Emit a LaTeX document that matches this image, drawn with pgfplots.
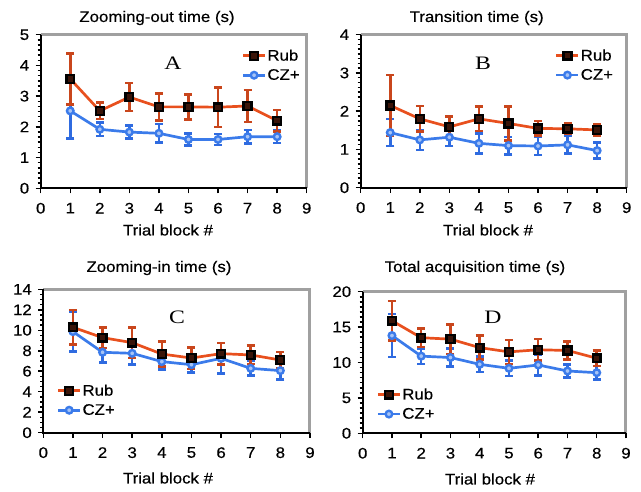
\documentclass[border=0pt]{standalone}
\usepackage{pgfplots}
\pgfplotsset{compat=1.18}
\usepackage{fontspec}
\setmainfont{Liberation Sans}[FakeStretch=1.1, FakeBold=0.4]
\newfontfamily\serifx{Liberation Serif}[FakeStretch=1.25]
\definecolor{rubline}{HTML}{E8501E}
\definecolor{ruberr}{HTML}{C9461C}
\definecolor{czline}{HTML}{3B7BEA}
\definecolor{czerr}{HTML}{2F6BE0}
\definecolor{framec}{HTML}{A0A0A0}
\newcommand{\tfont}{\fontsize{15.3}{17}\selectfont}

\pgfplotstableread{
x y e
1 3.56 0.83
2 2.52 0.27
3 2.97 0.46
4 2.65 0.44
5 2.65 0.41
6 2.64 0.64
7 2.68 0.52
8 2.20 0.35
}\rubA
\pgfplotstableread{
x y e
1 2.52 0.90
2 1.92 0.22
3 1.83 0.21
4 1.79 0.30
5 1.59 0.19
6 1.59 0.18
7 1.68 0.22
8 1.68 0.20
}\czA
\pgfplotstableread{
x y e
1 2.15 0.80
2 1.80 0.33
3 1.59 0.27
4 1.80 0.32
5 1.68 0.44
6 1.55 0.19
7 1.54 0.14
8 1.51 0.16
}\rubB
\pgfplotstableread{
x y e
1 1.44 0.35
2 1.25 0.26
3 1.32 0.23
4 1.16 0.26
5 1.10 0.23
6 1.09 0.24
7 1.12 0.23
8 0.97 0.21
}\czB
\pgfplotstableread{
x y e
1 10.29 1.70
2 9.28 1.00
3 8.79 1.50
4 7.68 1.20
5 7.29 1.05
6 7.72 1.05
7 7.59 0.90
8 7.10 0.78
}\rubC
\pgfplotstableread{
x y e
1 9.87 1.95
2 7.85 1.00
3 7.75 1.07
4 6.94 0.75
5 6.64 0.78
6 7.26 1.50
7 6.28 0.70
8 6.06 0.85
}\czC
\pgfplotstableread{
x y e
1 15.9 2.80
2 13.5 1.30
3 13.3 2.10
4 12.1 1.70
5 11.5 1.70
6 11.8 1.55
7 11.7 1.30
8 10.6 1.10
}\rubD
\pgfplotstableread{
x y e
1 13.8 3.05
2 10.9 1.10
3 10.7 1.30
4 9.74 1.10
5 9.18 1.10
6 9.65 1.50
7 8.80 0.95
8 8.56 0.95
}\czD

\pgfplotsset{
 panel/.style={
  scale only axis,
  xmin=0, xmax=9, ymin=0,
  xtick={0,...,9},
  axis line style={draw=none},
  tick align=outside,
  tick pos=left,
  major tick length=5pt, minor tick length=3pt,
  every tick/.style={black, line width=1.5pt},
  /pgf/number format/assume math mode=true,
  ticklabel style={font=\tfont},
  xticklabel style={yshift=-6pt},
  yticklabel style={xshift=-3pt},
  clip=false,
  legend cell align=left,
  legend image code/.code={\draw[##1, mark repeat=2, mark phase=2] plot coordinates {(0pt,0pt) (11pt,0pt) (22pt,0pt)};},
  legend style={draw=none, fill=none, font=\tfont, inner sep=0pt, row sep=5pt, nodes={inner sep=1pt}},
  after end axis/.code={
    \draw[framec, line width=3pt] (rel axis cs:0,1) -- (rel axis cs:1,1) -- (rel axis cs:1,0);
    \draw[black, line width=2pt] (rel axis cs:0,1) -- (rel axis cs:0,0) -- (rel axis cs:1,0);
  },
 },
 rubleg/.style={color=rubline, line width=2.7pt, mark=square*, mark size=3.9pt, mark options={draw=black, fill=black!75!rubline, line width=2.4pt, solid}},
 czleg/.style={color=czline, line width=2.7pt, mark=*, mark size=3.3pt, mark options={draw=czline, fill=czline!45!white, line width=2.4pt, solid}},
 rub/.style={rubleg, forget plot,
   error bars/y dir=both, error bars/y explicit,
   error bars/error bar style={ruberr, line width=2.5pt},
   error bars/error mark options={ruberr, rotate=90, mark size=4pt, line width=2.5pt}},
 cz/.style={czleg, forget plot,
   error bars/y dir=both, error bars/y explicit,
   error bars/error bar style={czerr, line width=2.5pt},
   error bars/error mark options={czerr, rotate=90, mark size=4pt, line width=2.5pt}},
}

\begin{document}
\begin{tikzpicture}[x=1pt,y=1pt]
\useasboundingbox (0pt,0pt) rectangle (641pt,491pt);

% Panel A
\begin{axis}[panel, at={(40.7pt,302.7pt)}, anchor=south west, width=266pt, height=153.6pt,
  ymax=5, ytick={0,...,5}, minor y tick num=5,
  legend style={at={(axis description cs:0.755,0.80)}, anchor=west}]
\addlegendimage{rubleg}\addlegendentry{Rub}
\addlegendimage{czleg}\addlegendentry{CZ+}
\addplot[cz] table[x=x,y=y,y error=e] {\czA};
\addplot[rub] table[x=x,y=y,y error=e] {\rubA};
\end{axis}

% Panel B
\begin{axis}[panel, at={(360.7pt,303.3pt)}, anchor=south west, width=266pt, height=153pt,
  ymax=4, ytick={0,...,4}, minor y tick num=7,
  legend style={at={(axis description cs:0.73,0.80)}, anchor=west}]
\addlegendimage{rubleg}\addlegendentry{Rub}
\addlegendimage{czleg}\addlegendentry{CZ+}
\addplot[cz] table[x=x,y=y,y error=e] {\czB};
\addplot[rub] table[x=x,y=y,y error=e] {\rubB};
\end{axis}

% Panel C
\begin{axis}[panel, at={(43.3pt,58.3pt)}, anchor=south west, width=266.7pt, height=143.4pt,
  ymax=14, ytick={0,2,...,14}, minor y tick num=3,
  legend style={at={(axis description cs:0.05,0.225)}, anchor=west}]
\addlegendimage{rubleg}\addlegendentry{Rub}
\addlegendimage{czleg}\addlegendentry{CZ+}
\addplot[cz] table[x=x,y=y,y error=e] {\czC};
\addplot[rub] table[x=x,y=y,y error=e] {\rubC};
\end{axis}

% Panel D
\begin{axis}[panel, at={(362.7pt,57.7pt)}, anchor=south west, width=263.3pt, height=141.6pt,
  ymax=20, ytick={0,5,...,20}, minor y tick num=6,
  legend style={at={(axis description cs:0.052,0.205)}, anchor=west}]
\addlegendimage{rubleg}\addlegendentry{Rub}
\addlegendimage{czleg}\addlegendentry{CZ+}
\addplot[cz] table[x=x,y=y,y error=e] {\czD};
\addplot[rub] table[x=x,y=y,y error=e] {\rubD};
\end{axis}

% titles
\node[font=\tfont] at (157pt,473pt) {Zooming-out time (s)};
\node[font=\tfont] at (476.7pt,473pt) {Transition time (s)};
\node[font=\tfont] at (159pt,223pt) {Zooming-in time (s)};
\node[font=\tfont] at (475pt,223pt) {Total acquisition time (s)};
% x labels
\node[font=\tfont] at (168pt,261pt) {Trial block \#};
\node[font=\tfont] at (488pt,261pt) {Trial block \#};
\node[font=\tfont] at (168pt,13pt) {Trial block \#};
\node[font=\tfont] at (490pt,12pt) {Trial block \#};
% panel letters
\node[font=\serifx\fontsize{19}{20}\selectfont] at (173pt,428pt) {A};
\node[font=\serifx\fontsize{19}{20}\selectfont] at (483pt,428pt) {B};
\node[font=\serifx\fontsize{19}{20}\selectfont] at (177pt,174pt) {C};
\node[font=\serifx\fontsize{19}{20}\selectfont] at (493pt,174pt) {D};
\end{tikzpicture}
\end{document}
